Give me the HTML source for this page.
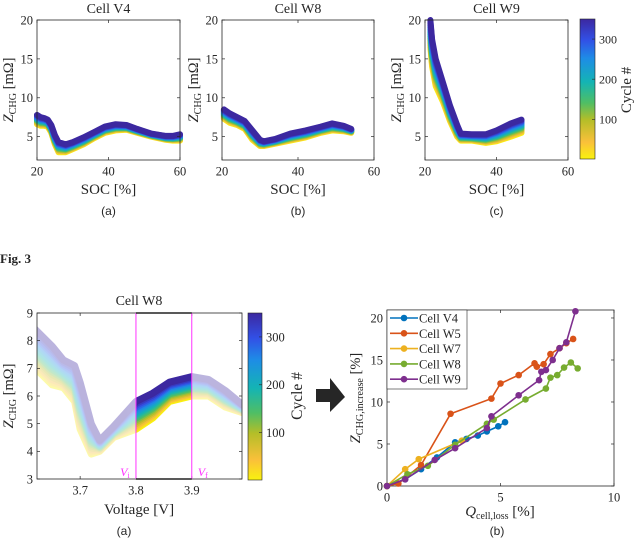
<!DOCTYPE html>
<html><head><meta charset="utf-8"><style>
body{margin:0;background:#fff;width:640px;height:542px;overflow:hidden}
svg{display:block}
text{font-family:"Liberation Serif",serif;fill:#262626}
.sans{font-family:"Liberation Sans",sans-serif}
</style></head><body>
<svg id="fig" width="640" height="542" xmlns="http://www.w3.org/2000/svg">
<defs>
<linearGradient id="cbg" x1="0" y1="1" x2="0" y2="0">
<stop offset="0" stop-color="#f9f20e"/><stop offset="0.12" stop-color="#fac03a"/><stop offset="0.28" stop-color="#b4be28"/><stop offset="0.4" stop-color="#50be64"/><stop offset="0.55" stop-color="#14b4b4"/><stop offset="0.72" stop-color="#1e8ce6"/><stop offset="0.85" stop-color="#3250e6"/><stop offset="1" stop-color="#3c28a0"/>
</linearGradient>
</defs>
<text x="0" y="263" style="font-weight:bold;font-size:13px">Fig. 3</text>
<polygon points="316,389 330,389 330,378 345,397 330,412 330,402 316,402" fill="#262626"/>
</svg>
<script>
// ---------- data ----------
const cycleTicks=[100,200,300];
const cycleMin=1, cycleMax=350;
const v4Soc=[20,21,22,23,24,25,26,28,30,33,36,39,42,45,48,52,56,58,60];
const v4Last=[7.8,7.5,7.4,7.2,6.5,5.2,4.3,4.0,4.3,4.9,5.6,6.3,6.6,6.5,6.0,5.4,5.1,5.1,5.3];
const v4First=[6.6,6.4,6.4,6.3,5.5,4.0,3.0,3.0,3.4,4.0,4.8,5.5,5.8,5.9,5.5,5.0,4.6,4.5,4.5];
const w8Soc=[20.5,22,24,26,28,30,31,34,38,42,46,49,52,54];
const w8Last=[8.5,8.0,7.5,7.0,5.8,4.6,4.4,4.7,5.4,5.8,6.3,6.7,6.4,6.0];
const w8First=[7.3,6.8,6.5,6.0,4.6,3.8,3.8,4.1,4.5,4.9,5.5,5.8,5.7,5.5];
const w9Soc=[21.5,22,23,25,27,29,30,33,37,40,44,47];
const w9Last=[20,17.5,15,12,9,6.5,5.4,5.3,5.3,5.8,6.7,7.2];
const w9First=[16.5,14,11.5,9.5,7,5,4.5,4.5,4.2,4.4,5.0,5.5];
const voltX=[3.62,3.65,3.67,3.69,3.70,3.72,3.735,3.76,3.8,3.83,3.86,3.9,3.93,3.96,3.99];
const voltLast=[8.4,7.8,7.3,7.1,6.5,5.0,4.4,4.9,5.8,6.1,6.5,6.7,6.6,6.2,5.7];
const voltFirst=[7.0,6.4,6.3,5.8,4.8,3.9,4.0,4.5,4.8,5.2,5.8,6.0,6.0,5.6,5.4];
const socTicks=[20,40,60];
const zTicks=[5,10,15,20];
const vTicks=[3.7,3.8,3.9];
const vzTicks=[3,4,5,6,7,8,9];
const qTicks=[0,5,10];
const ziTicks=[0,5,10,15,20];
const cellNames=["Cell V4","Cell W5","Cell W7","Cell W8","Cell W9"];
const cellColors=["#0072bd","#d95319","#edb120","#77ac30","#7e2f8e"];
const qV4=[0,0.8,1.5,2.2,3.0,3.5,4.0,4.4,4.9,5.2];
const zV4=[0,0.8,2.0,3.4,5.2,5.6,6.0,6.5,7.1,7.6];
const qW5=[0,0.5,1.5,2.8,4.6,5.0,5.8,6.5,6.6,6.9,7.2,7.6,7.9,8.2];
const zW5=[0,0.3,2.5,8.6,10.4,12.2,13.2,14.6,14.2,14.5,15.7,16.4,17.0,17.5];
const qW7=[0,0.8,1.4,3.3];
const zW7=[0,2.0,3.2,5.4];
const qW8=[0,0.9,1.8,3.0,4.4,4.7,6.1,7.0,7.2,7.5,7.8,8.1,8.4];
const zW8=[0,1.4,2.4,4.9,7.4,7.9,10.3,11.6,12.9,13.2,14.1,14.7,14.0];
const qW9=[0,0.8,2.1,3.0,4.4,4.6,5.8,6.7,6.8,7.0,7.3,7.6,7.9,8.3];
const zW9=[0,0.8,3.1,4.5,6.9,8.3,10.8,12.6,13.6,13.8,15.0,16.4,17.1,20.8];
const qSets=[qV4,qW5,qW7,qW8,qW9], zSets=[zV4,zW5,zW7,zW8,zW9];

// ---------- helpers ----------
const NS="http://www.w3.org/2000/svg";
const svg=document.getElementById('fig');
function el(tag,attrs,parent){const e=document.createElementNS(NS,tag);for(const k in attrs)e.setAttribute(k,attrs[k]);(parent||svg).appendChild(e);return e;}
const stops=[[0,249,242,14],[0.12,250,192,58],[0.28,180,190,40],[0.4,80,190,100],[0.55,20,180,180],[0.72,30,140,230],[0.85,50,80,230],[1,60,40,160]];
function cmap(t){for(let i=1;i<stops.length;i++){if(t<=stops[i][0]){const a=stops[i-1],b=stops[i],f=(t-a[0])/(b[0]-a[0]);return `rgb(${Math.round(a[1]+f*(b[1]-a[1]))},${Math.round(a[2]+f*(b[2]-a[2]))},${Math.round(a[3]+f*(b[3]-a[3]))})`;}}return 'rgb(60,40,160)';}
function mkAxes(o){
  o.sx=v=>o.x0+(v-o.xmin)/(o.xmax-o.xmin)*(o.x1-o.x0);
  o.sy=v=>o.y1-(v-o.ymin)/(o.ymax-o.ymin)*(o.y1-o.y0);
  return o;}
function frame(a,xt,yt,fs,name,fmt){
  const g=el('g',{});
  
  
  el('rect',{x:a.x0,y:a.y0,width:a.x1-a.x0,height:a.y1-a.y0,fill:'none',stroke:'#262626','stroke-width':0.8},g);
  xt.forEach(v=>{const x=a.sx(v);el('line',{x1:x,x2:x,y1:a.y1,y2:a.y1-3,stroke:'#262626','stroke-width':0.7},g);el('line',{x1:x,x2:x,y1:a.y0,y2:a.y0+3,stroke:'#262626','stroke-width':0.7},g);
    const t=el('text',{x:x,y:a.y1+fs+3,'text-anchor':'middle','font-size':fs},g);t.textContent=fmt?fmt(v):v;
    });
  yt.forEach(v=>{const y=a.sy(v);el('line',{x1:a.x0,x2:a.x0+3,y1:y,y2:y,stroke:'#262626','stroke-width':0.7},g);el('line',{x1:a.x1,x2:a.x1-3,y1:y,y2:y,stroke:'#262626','stroke-width':0.7},g);
    const t=el('text',{x:a.x0-4,y:y+fs*0.35,'text-anchor':'end','font-size':fs},g);t.textContent=v;
    });
}
function txt(x,y,s,fs,name,extra){const t=el('text',Object.assign({x:x,y:y,'font-size':fs,'text-anchor':'middle'},extra||{}));t.innerHTML=s;
  return t;}
function zlabel(x,y,fs,sub,unit,name){const t=el('text',{x:0,y:0,'font-size':fs,'text-anchor':'middle',transform:`translate(${x},${y}) rotate(-90)`});
  t.innerHTML=`<tspan font-style="italic">Z</tspan><tspan font-size="${fs*0.7}" dy="3">${sub}</tspan><tspan dy="-3"> ${unit}</tspan>`;
  }
function bands(a,xs,first,last,sw,name,clip,op){
  const N=16;const g=el('g',clip?{'clip-path':`url(#${clip})`,opacity:op}:{});
  
  for(let k=0;k<N;k++){const f=k/(N-1);
    const d=xs.map((x,i)=>(i?'L':'M')+a.sx(x).toFixed(1)+','+a.sy(first[i]+f*(last[i]-first[i])).toFixed(1)).join('');
    el('path',{d:d,fill:'none',stroke:cmap(f),'stroke-width':sw,'stroke-linejoin':'round','stroke-linecap':'round'},g);}
}
function colorbar(x,y0,y1,w,fs,name,labx,laby){
  const r=el('rect',{x:x,y:y0,width:w,height:y1-y0,fill:'url(#cbg)',stroke:'#262626','stroke-width':0.6});
  
  const sc=v=>y1-(v-cycleMin)/(cycleMax-cycleMin)*(y1-y0);
  cycleTicks.forEach(v=>{el('line',{x1:x+w,x2:x+w-3,y1:sc(v),y2:sc(v),stroke:'#262626','stroke-width':0.6});
    const t=el('text',{x:x+w+4,y:sc(v)+fs*0.35,'font-size':fs});t.textContent=v;
    });
  const t=el('text',{x:0,y:0,'font-size':fs+3,'text-anchor':'middle',transform:`translate(${labx},${laby}) rotate(-90)`});t.textContent='Cycle #';
  
}

// ---------- top row ----------
const tops=[[37,180,"Cell V4",v4Soc,v4First,v4Last,"(a)"],[222,374,"Cell W8",w8Soc,w8First,w8Last,"(b)"],[425,568,"Cell W9",w9Soc,w9First,w9Last,"(c)"]];
tops.forEach((p,i)=>{
  const a=mkAxes({x0:p[0],x1:p[1],y0:20,y1:160,xmin:20,xmax:60,ymin:2,ymax:20});
  bands(a,p[3],p[4],p[5],6,'band-'+p[2].toLowerCase().replace(' ','-'));
  frame(a,socTicks,zTicks,12.5,'top-'+i);
  txt((p[0]+p[1])/2,13,p[2],14,'title-'+i);
  txt((p[0]+p[1])/2,194,'SOC [%]',15,'x-axis-title-'+i);
  zlabel(p[0]-24,90,14.5,'CHG','[mΩ]','y-axis-title-'+i);
  txt((p[0]+p[1])/2,215,p[6],12,'subcaption-'+i,{class:'sans'});
});
colorbar(580,19,159,15,12,'colorbar-top',631,90);

// ---------- bottom left ----------
const bl=mkAxes({x0:37,x1:242,y0:313,y1:479,xmin:3.6227,xmax:3.99,ymin:3,ymax:9});
const cp=el('clipPath',{id:'cin'});el('rect',{x:bl.sx(3.8),y:bl.y0,width:bl.sx(3.9)-bl.sx(3.8),height:bl.y1-bl.y0},cp);
const co=el('clipPath',{id:'cout'});el('path',{d:`M${bl.x0},${bl.y0}H${bl.sx(3.8)}V${bl.y1}H${bl.x0}Z M${bl.sx(3.9)},${bl.y0}H${bl.x1}V${bl.y1}H${bl.sx(3.9)}Z`},co);
bands(bl,voltX,voltFirst,voltLast,7,'band-faded','cout',0.35);
bands(bl,voltX,voltFirst,voltLast,7,'band-window','cin',1);
frame(bl,vTicks,vzTicks,12.5,'voltage',v=>v.toFixed(1));
[3.8,3.9].forEach(v=>{const l=el('line',{x1:bl.sx(v),x2:bl.sx(v),y1:bl.y0,y2:bl.y1,stroke:'#ff33ff','stroke-width':1});
  });
el('line',{x1:bl.sx(3.8),x2:bl.sx(3.9),y1:bl.y0,y2:bl.y0,stroke:'#222','stroke-width':1.6});
el('line',{x1:bl.sx(3.8),x2:bl.sx(3.9),y1:bl.y1,y2:bl.y1,stroke:'#222','stroke-width':1.6});
txt(bl.sx(3.8)-11,476,'<tspan font-style="italic">V</tspan><tspan font-size="8" dy="2">i</tspan>',12,'vi-label',{fill:'#ff33ff',style:'fill:#ff33ff'});
txt(bl.sx(3.9)+11,476,'<tspan font-style="italic">V</tspan><tspan font-size="8" dy="2">f</tspan>',12,'vf-label',{fill:'#ff33ff',style:'fill:#ff33ff'});
txt(139,305,'Cell W8',14,'title-bottom-left');
txt(139,514,'Voltage [V]',15,'x-axis-title-voltage');
zlabel(13,396,14.5,'CHG','[mΩ]','y-axis-title-voltage');
txt(124,535,'(a)',12,'subcaption-bottom-a',{class:'sans'});
colorbar(248,313,480,14,12.5,'colorbar-bottom',302,396);

// ---------- bottom right ----------
const br=mkAxes({x0:387,x1:614,y0:310,y1:486,xmin:0,xmax:10,ymin:0,ymax:20.95});
frame(br,qTicks,ziTicks,12.5,'q-loss');
qSets.forEach((qs,s)=>{const g=el('g',{});
  
  
  el('path',{d:qs.map((q,i)=>(i?'L':'M')+br.sx(q).toFixed(1)+','+br.sy(zSets[s][i]).toFixed(1)).join(''),fill:'none',stroke:cellColors[s],'stroke-width':1.6},g);
  qs.forEach((q,i)=>{const c=el('circle',{cx:br.sx(q),cy:br.sy(zSets[s][i]),r:3.3,fill:cellColors[s]},g);
    });
});
const lg=el('g',{});


el('rect',{x:387,y:310,width:80,height:79,fill:'#fff',stroke:'#262626','stroke-width':0.6},lg);
cellNames.forEach((n,i)=>{const y=318+i*15.3;
  el('line',{x1:390,x2:418,y1:y,y2:y,stroke:cellColors[i],'stroke-width':1.6},lg);
  el('circle',{cx:404,cy:y,r:3.3,fill:cellColors[i]},lg);
  const t=el('text',{x:419,y:y+4.5,'font-size':12.5},lg);t.textContent=n;
  });
const xt=el('text',{x:500,y:516,'font-size':15,'text-anchor':'middle'});
xt.innerHTML='<tspan font-style="italic">Q</tspan><tspan font-size="10" dy="3">cell,loss</tspan><tspan dy="-3"> [%]</tspan>';


zlabel(360,398,14.5,'CHG,increase','[%]','y-axis-title-z-increase');
txt(497,535,'(b)',12,'subcaption-bottom-b',{class:'sans'});
</script>
</body></html>
